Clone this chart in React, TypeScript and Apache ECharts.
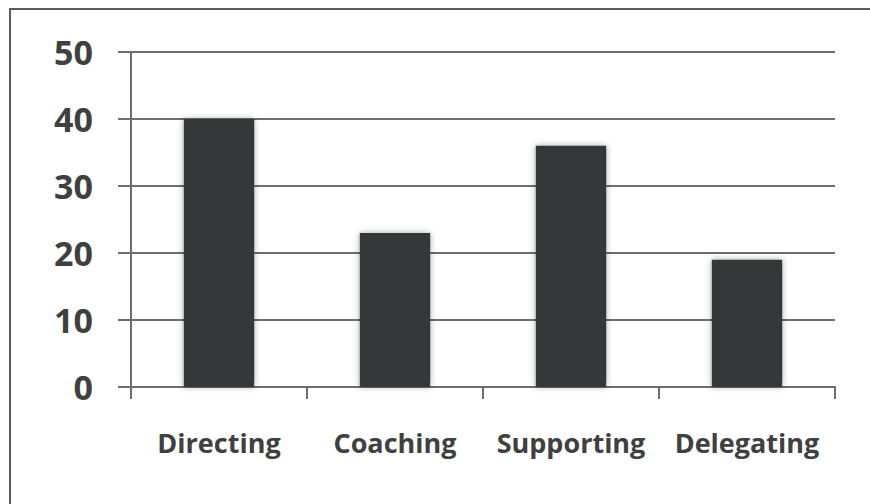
import React, { useEffect, useRef } from "react";
import * as echarts from "echarts";

const categories = ["Directing", "Coaching", "Supporting", "Delegating"];
const values = [40, 23, 36, 19];
const yTicks = [0, 10, 20, 30, 40, 50];

export default function App() {
  const ref = useRef<HTMLDivElement>(null);
  useEffect(() => {
    document.body.style.margin = "0";
    const chart = echarts.init(ref.current!, null, { renderer: "svg" });
    const lineColor = "#6e6e6e";
    chart.setOption({
      animation: false,
      backgroundColor: "#ffffff",
      graphic: [
        {
          type: "rect",
          shape: { x: 10, y: 9, width: 900, height: 600 },
          style: { fill: "none", stroke: "#5a5a5a", lineWidth: 2 },
          silent: true,
        },
      ],
      grid: { left: 131, right: 35, top: 52, bottom: 117 },
      xAxis: {
        type: "category",
        data: categories,
        boundaryGap: true,
        axisLine: { show: true, lineStyle: { color: lineColor, width: 2 } },
        axisTick: { show: true, interval: 0, length: 12, alignWithLabel: false, lineStyle: { color: lineColor, width: 2 } },
        axisLabel: {
          interval: 0,
          hideOverlap: false,
          color: "#404040",
          fontFamily: "Open Sans",
          fontWeight: "bold",
          fontSize: 27,
          margin: 42,
        },
      },
      yAxis: {
        type: "value",
        min: yTicks[0],
        max: yTicks[yTicks.length - 1],
        interval: 10,
        axisLine: { show: true, lineStyle: { color: lineColor, width: 2 } },
        axisTick: { show: true, length: 13, lineStyle: { color: lineColor, width: 2 } },
        splitLine: { show: true, lineStyle: { color: lineColor, width: 2 } },
        axisLabel: {
          color: "#404040",
          fontFamily: "Open Sans",
          fontWeight: "bold",
          fontSize: 34,
          margin: 38,
        },
      },
      series: [
        {
          type: "bar",
          data: values,
          barWidth: "40%",
          itemStyle: {
            color: "#353837",
            shadowBlur: 6,
            shadowColor: "rgba(0,0,0,0.35)",
          },
        },
      ],
    });
    return () => chart.dispose();
  }, []);
  return <div ref={ref} style={{ width: 870, height: 504 }} />;
}
